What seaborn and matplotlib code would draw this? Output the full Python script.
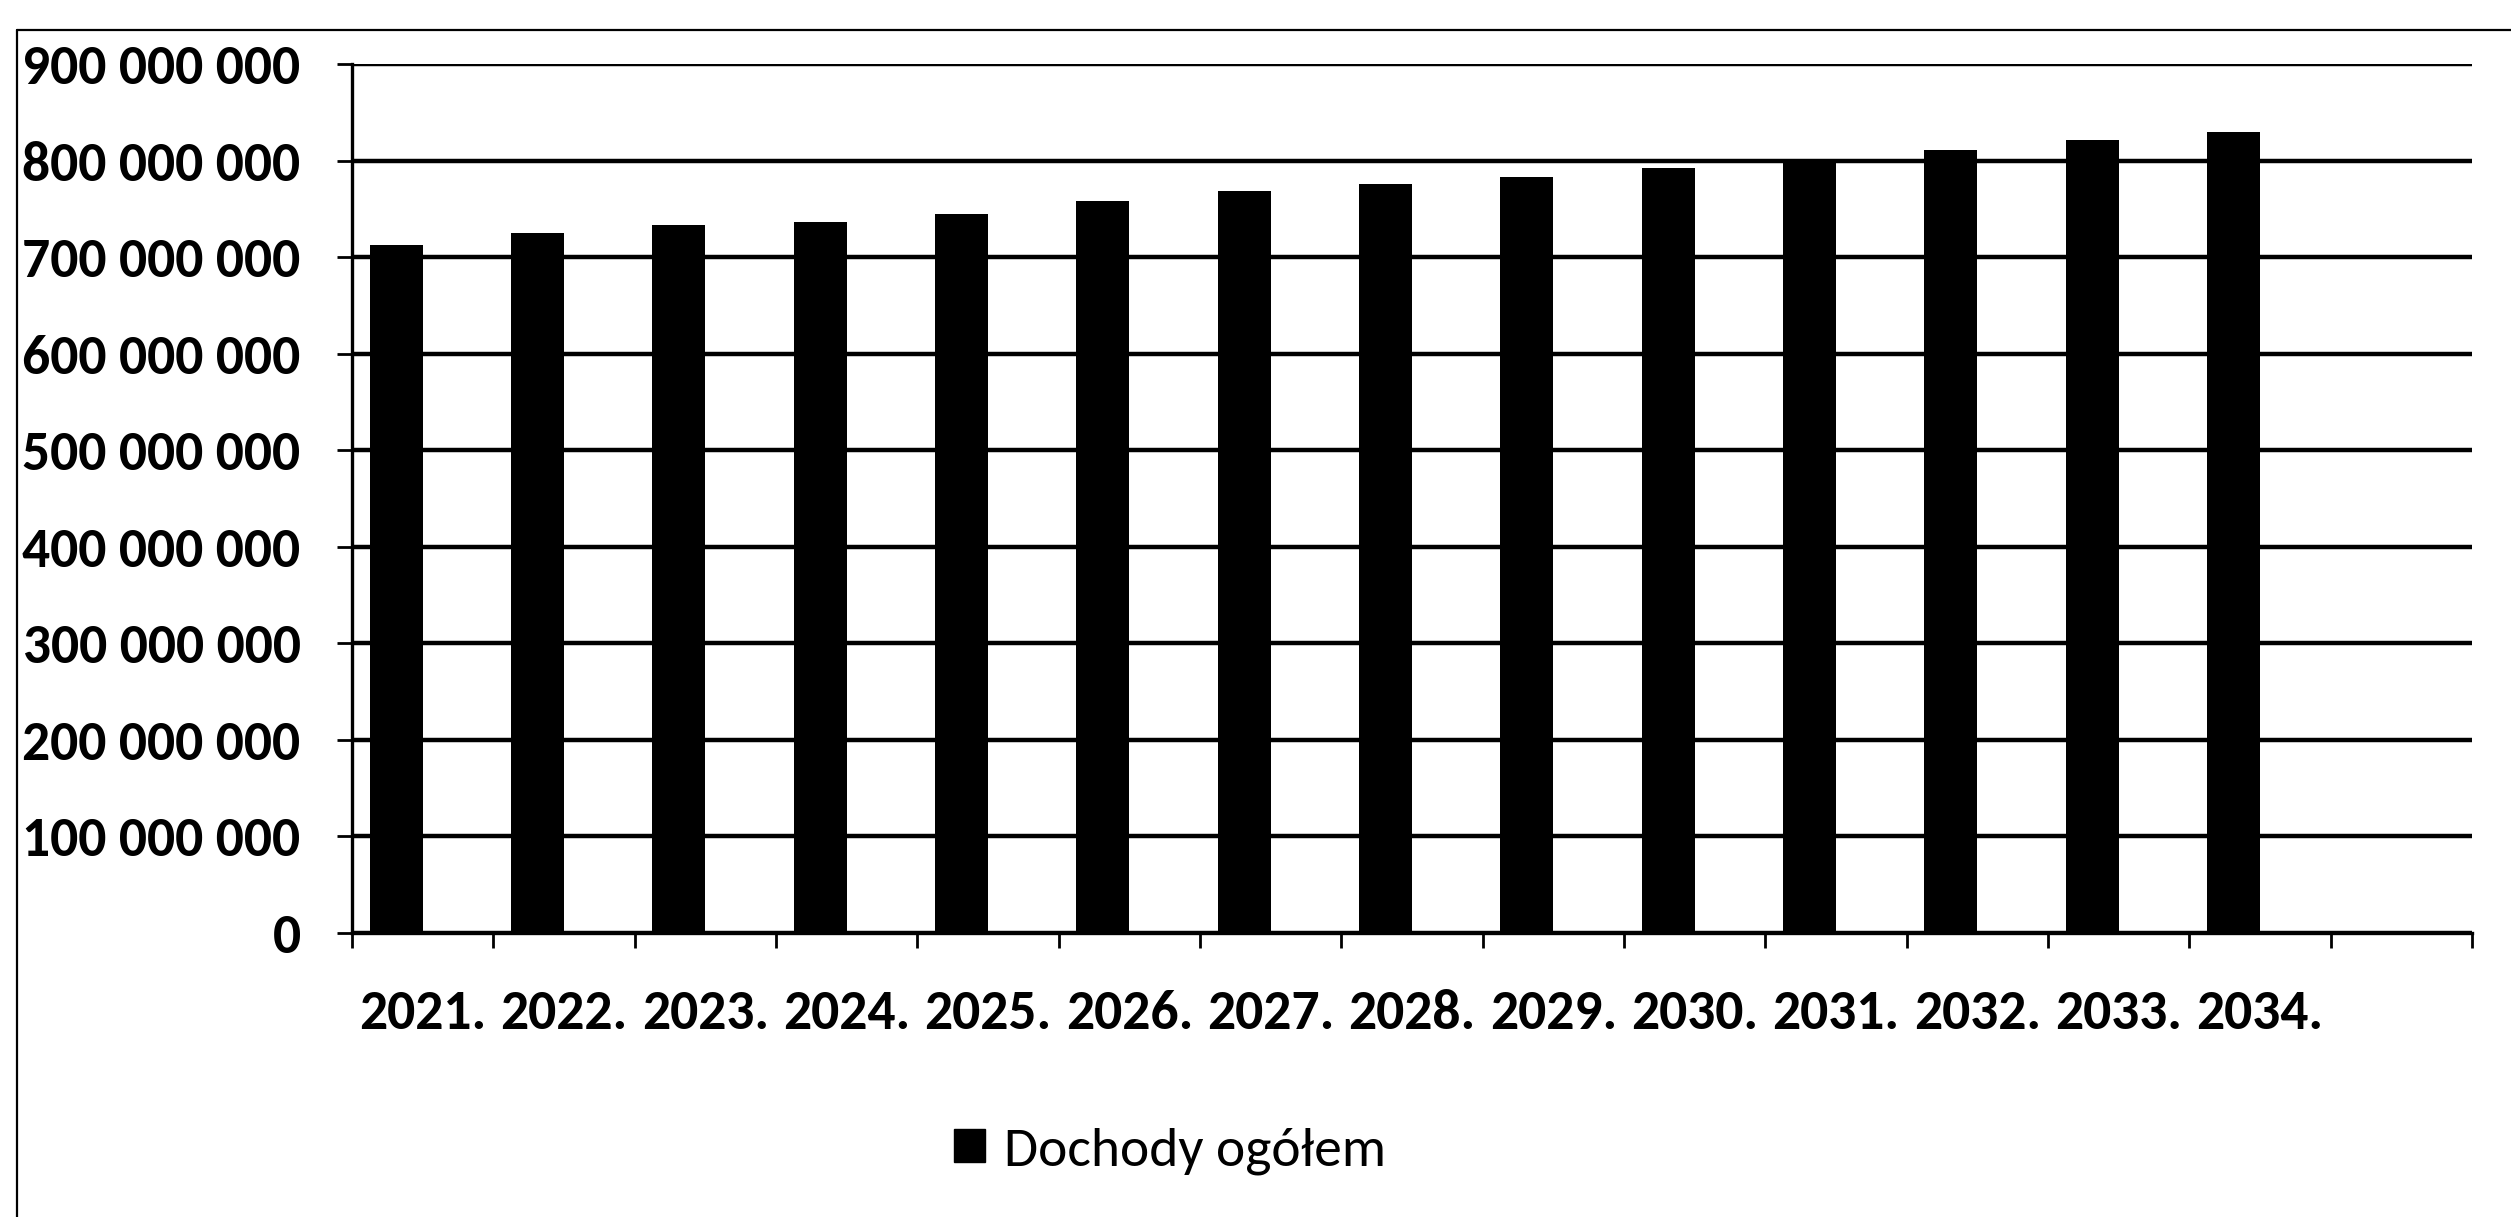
import matplotlib
matplotlib.use("Agg")
import matplotlib.pyplot as plt
from matplotlib.lines import Line2D
from matplotlib.patches import Patch
from matplotlib.ticker import FuncFormatter, MultipleLocator, FixedLocator
import numpy as np
import pandas as pd
import seaborn as sns

# dane
lata = ["2021.", "2022.", "2023.", "2024.", "2025.", "2026.", "2027.",
        "2028.", "2029.", "2030.", "2031.", "2032.", "2033.", "2034."]
dochody = [713e6, 725e6, 733e6, 736e6, 745e6, 758e6, 768e6,
           776e6, 783e6, 792e6, 801e6, 811e6, 821e6, 830e6]
seria = "Dochody ogółem"

df = pd.DataFrame({"rok": lata, "wartosc": dochody, "seria": seria})

sns.set_theme(style="white")
plt.rcParams["font.family"] = ["Carlito", "DejaVu Sans"]

fig = plt.figure(figsize=(25.11, 12.17), dpi=100)
W, H = 2511, 1217
ax = fig.add_axes([352 / W, 1 - 933 / H, (2472 - 352) / W, (933 - 64) / H])

# druga, pusta seria w Excelu przesuwa slupki w lewo
sns.barplot(data=df, x="rok", y="wartosc", hue="seria",
            hue_order=[seria, " "], palette={seria: "black", " ": "black"},
            dodge=True, width=0.75, gap=0, linewidth=0, legend=False,
            ax=ax, zorder=3)

ax.set_xlim(-0.5, 14.5)
ax.set_ylim(0, 900e6)
ax.yaxis.set_major_locator(MultipleLocator(100e6))
ax.yaxis.set_major_formatter(FuncFormatter(lambda v, p: f"{int(v):,}".replace(",", " ")))
ax.grid(axis="y", color="black", linewidth=3.2, zorder=0)
ax.grid(axis="x", visible=False)

# znaczniki miedzy kategoriami, etykiety na srodku
ax.xaxis.set_minor_locator(FixedLocator(np.arange(-0.5, 15, 1)))
ax.set_xlabel("")
ax.set_ylabel("")

for s in ["top", "right"]:
    ax.spines[s].set_visible(False)
for s in ["left", "bottom"]:
    ax.spines[s].set_color("black")
    ax.spines[s].set_linewidth(2.4)

ax.tick_params(axis="y", which="major", direction="out", length=11, width=2,
               color="black", pad=26, labelsize=40, labelcolor="black", left=True)
ax.tick_params(axis="x", which="major", length=0, pad=40, labelsize=40,
               labelcolor="black", bottom=True)
ax.tick_params(axis="x", which="minor", direction="out", length=11, width=2,
               color="black", bottom=True)
for t in ax.get_yticklabels() + ax.get_xticklabels():
    t.set_fontweight("bold")

fig.legend(handles=[Patch(facecolor="black", edgecolor="black", label=seria)],
           loc="center", bbox_to_anchor=(1170 / W, 1 - 1151 / H),
           frameon=False, fontsize=40, handlelength=0.55, handleheight=0.55,
           handletextpad=0.35, labelcolor="black")

# ramka obszaru wykresu
fig.add_artist(Line2D([17 / W, 17 / W], [0, 1 - 30 / H], color="black", linewidth=1.6))
fig.add_artist(Line2D([17 / W, 1], [1 - 30 / H, 1 - 30 / H], color="black", linewidth=1.6))

fig.savefig("out.png", dpi=100, facecolor="white")
